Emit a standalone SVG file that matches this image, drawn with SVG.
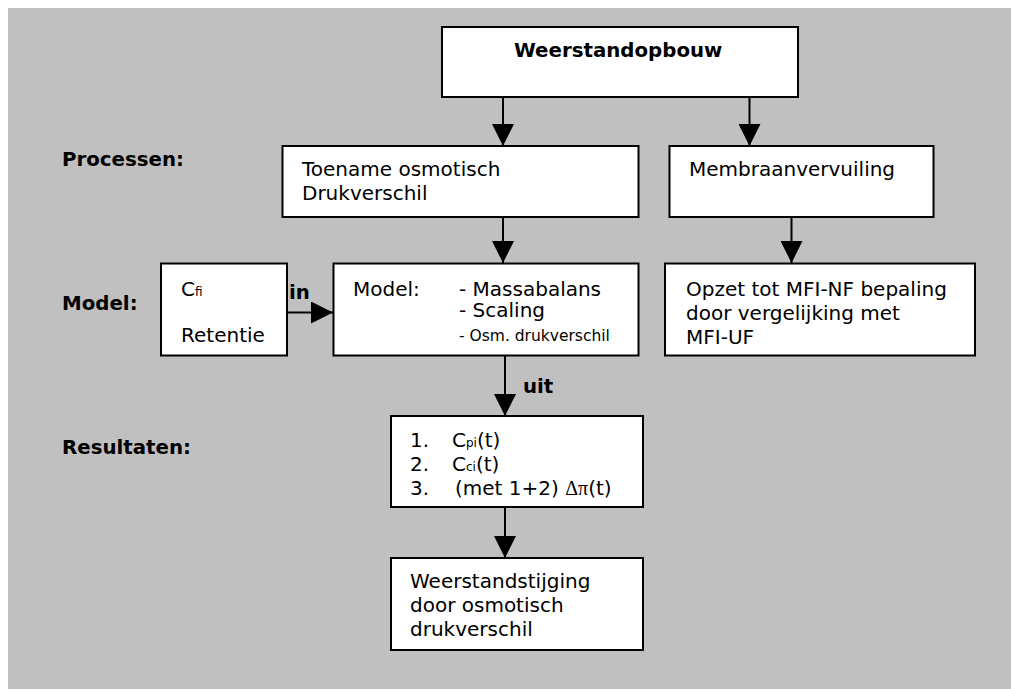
<svg xmlns="http://www.w3.org/2000/svg" width="1011" height="689" viewBox="0 0 1011 689">
<style>
  .bg { fill: #c0c0c0; }
  .box { fill: #ffffff; stroke: #000000; stroke-width: 2; }
  .t { font-family: "DejaVu Sans", Verdana, sans-serif; font-size: 20px; fill: #000; }
  .b { font-weight: bold; font-size: 19.8px; }
  .sub { font-size: 12px; }
  .small { font-size: 15.5px; }
  .sym { font-family: "Liberation Serif", "DejaVu Serif", serif; }
  .conn { stroke: #000; stroke-width: 2; fill: none; marker-end: url(#arr); }
</style>
<defs>
  <marker id="arr" markerUnits="userSpaceOnUse" markerWidth="22" markerHeight="22" viewBox="0 0 20 20" refX="20" refY="10" orient="auto">
    <path d="M0,0 L20,10 L0,20 Z" fill="#000"/>
  </marker>
</defs>
<rect class="bg" x="8" y="8" width="1003" height="681"/>

<g id="labels">
  <text class="t b" x="62" y="166">Processen:</text>
  <text class="t b" x="62" y="310">Model:</text>
  <text class="t b" x="62" y="454">Resultaten:</text>
</g>

<g id="connectors">
  <line class="conn" x1="503" y1="96" x2="503" y2="146"/>
  <line class="conn" x1="749.5" y1="97" x2="749.5" y2="146"/>
  <line class="conn" x1="503" y1="211" x2="503" y2="263"/>
  <line class="conn" x1="791.5" y1="211" x2="791.5" y2="263"/>
  <line class="conn" x1="287" y1="312.5" x2="333" y2="312.5"/>
  <line class="conn" x1="505" y1="355" x2="505" y2="416"/>
  <line class="conn" x1="505" y1="507" x2="505" y2="558"/>
  <text class="t b" x="289" y="299">in</text>
  <text class="t b" x="523" y="393">uit</text>
</g>

<g id="weerstandopbouw">
  <rect class="box" x="442" y="27" width="356" height="70"/>
  <text class="t b" x="514" y="57">Weerstandopbouw</text>
</g>

<g id="toename">
  <rect class="box" x="282.5" y="146" width="356" height="71"/>
  <text class="t" x="302" y="176">Toename osmotisch</text>
  <text class="t" x="302" y="200">Drukverschil</text>
</g>

<g id="membraan">
  <rect class="box" x="669.5" y="146" width="264" height="71"/>
  <text class="t" x="689" y="176">Membraanvervuiling</text>
</g>

<g id="invoer">
  <rect class="box" x="161" y="263.5" width="126" height="92"/>
  <text class="t" x="181" y="296">C<tspan class="sub">fi</tspan></text>
  <text class="t" x="181" y="342">Retentie</text>
</g>

<g id="model">
  <rect class="box" x="333.5" y="263.5" width="305" height="92"/>
  <text class="t" x="353" y="296">Model:</text>
  <text class="t" x="459" y="296">- Massabalans</text>
  <text class="t" x="459" y="317">- Scaling</text>
  <text class="t small" x="459" y="341">- Osm. drukverschil</text>
</g>

<g id="opzet">
  <rect class="box" x="665" y="263.5" width="310" height="92"/>
  <text class="t" x="686" y="296">Opzet tot MFI-NF bepaling</text>
  <text class="t" x="686" y="320">door vergelijking met</text>
  <text class="t" x="686" y="344">MFI-UF</text>
</g>

<g id="resultaten">
  <rect class="box" x="391" y="416" width="252" height="91"/>
  <text class="t" x="410" y="447">1.</text>
  <text class="t" x="452" y="447">C<tspan class="sub">pi</tspan>(t)</text>
  <text class="t" x="410" y="471">2.</text>
  <text class="t" x="452" y="471">C<tspan class="sub">ci</tspan>(t)</text>
  <text class="t" x="410" y="495">3.</text>
  <text class="t" x="455" y="495">(met 1+2) <tspan class="sym">Δπ</tspan>(t)</text>
</g>

<g id="weerstandstijging">
  <rect class="box" x="391" y="558" width="252" height="92"/>
  <text class="t" x="410" y="588">Weerstandstijging</text>
  <text class="t" x="410" y="612">door osmotisch</text>
  <text class="t" x="410" y="636">drukverschil</text>
</g>
</svg>
